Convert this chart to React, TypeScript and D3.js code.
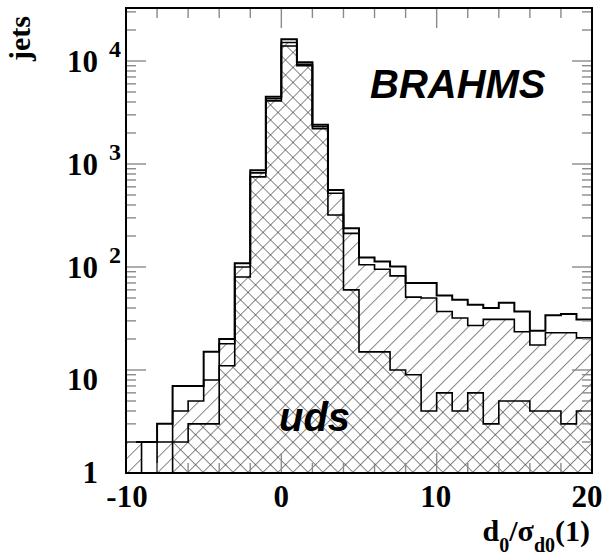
import React from 'react';
import * as d3 from 'd3';

// Lower edges of the unit-width bins in d0/sigma_d0
const binLow = [-10, -9, -8, -7, -6, -5, -4, -3, -2, -1, 0, 1, 2, 3, 4, 5, 6, 7, 8, 9, 10, 11, 12, 13, 14, 15, 16, 17, 18, 19];

// All jets (open histogram)
const allJets = [2, 2, 3, 7, 7, 15, 20, 109, 870, 4500, 16300, 9700, 2400, 560, 238, 124, 113, 101, 70, 70, 53, 48, 43, 40, 45, 37, 24, 34, 35, 31];
// Stacked sample drawn with single hatching
const hatchedJets = [2, 1, 2, 4, 5, 8, 18, 100, 820, 4300, 15100, 9300, 2300, 520, 212, 105, 95, 82, 51, 50, 37, 32, 27, 31, 31, 23.5, 17.5, 23, 23, 20.5];
// uds jets (cross hatching)
const udsJets = [1, 1, 1, 2, 3, 3, 11, 80, 750, 4100, 14000, 9000, 2200, 320, 60, 15, 15, 10, 9, 4, 6, 4, 6, 3, 5, 5, 4, 4, 3, 4];

const xMajorTicks = [-10, 0, 10, 20];
const xMajorLabels = ['-10', '0', '10', '20'];
const xLabelShift = [1, 0, -1, -5];
const yDecades = [0, 1, 2, 3, 4];

const W = 610;
const H = 558;
const LEFT = 126;
const RIGHT = 592;
const TOP = 8;
const BOTTOM = 473;

const serif = '"Liberation Serif", "Times New Roman", serif';
const sans = '"Liberation Sans", Arial, Helvetica, sans-serif';

export default function App() {
  const x = d3.scaleLinear().domain([-10, 20]).range([LEFT, RIGHT]);
  const y = d3.scaleLog().domain([1, 32700]).range([BOTTOM, TOP]);
  const yc = (v: number) => y(Math.max(1, v));

  const stepPoints = (vals: number[]): [number, number][] => {
    const pts: [number, number][] = [[x(binLow[0]), BOTTOM]];
    vals.forEach((v, i) => {
      pts.push([x(binLow[i]), yc(v)]);
      pts.push([x(binLow[i] + 1), yc(v)]);
    });
    pts.push([x(binLow[binLow.length - 1] + 1), BOTTOM]);
    return pts;
  };
  const line = d3.line();
  const allPath = line(stepPoints(allJets)) as string;
  const hatchedPath = line(stepPoints(hatchedJets)) as string;
  const udsPath = line(stepPoints(udsJets)) as string;

  // tick marks
  const xMinor = d3.range(-10, 21, 2).filter((v) => v % 10 !== 0);
  const yTicks: { v: number; major: boolean }[] = [];
  yDecades.forEach((d) => {
    for (let k = 1; k <= 9; k++) {
      const v = k * Math.pow(10, d);
      if (v <= 32700) yTicks.push({ v, major: k === 1 });
    }
  });
  const tickColor = '#8a8a8a';

  return (
    <svg width={W} height={H} style={{ position: 'absolute', left: 0, top: 0, background: '#fff' }}>
      <defs>
        <pattern id="hatchFwd" patternUnits="userSpaceOnUse" width={10.6} height={10.6} patternTransform="rotate(45)">
          <line x1={0} y1={0} x2={0} y2={10.6} stroke="#222" strokeWidth={1.1} />
        </pattern>
        <pattern id="hatchBack" patternUnits="userSpaceOnUse" width={10.6} height={10.6} patternTransform="rotate(-45)">
          <line x1={0} y1={0} x2={0} y2={10.6} stroke="#222" strokeWidth={1.1} />
        </pattern>
        <clipPath id="frameClip">
          <rect x={LEFT} y={TOP} width={RIGHT - LEFT} height={BOTTOM - TOP} />
        </clipPath>
      </defs>
      <rect x={0} y={0} width={W} height={H} fill="#fff" />

      <g clipPath="url(#frameClip)">
        <path d={hatchedPath + 'Z'} fill="url(#hatchFwd)" stroke="none" />
        <path d={udsPath + 'Z'} fill="url(#hatchBack)" stroke="none" />
        <path d={udsPath} fill="none" stroke="#000" strokeWidth={1.6} />
        <path d={hatchedPath} fill="none" stroke="#000" strokeWidth={1.6} />
        <path d={allPath} fill="none" stroke="#000" strokeWidth={2} />
      </g>

      {/* x-axis ticks, bottom and top */}
      {xMajorTicks.map((v) => (
        <g key={'xM' + v}>
          <line x1={x(v)} x2={x(v)} y1={BOTTOM} y2={BOTTOM - 20} stroke={tickColor} strokeWidth={1.4} />
          <line x1={x(v)} x2={x(v)} y1={TOP} y2={TOP + 20} stroke={tickColor} strokeWidth={1.4} />
        </g>
      ))}
      {xMinor.map((v) => (
        <g key={'xm' + v}>
          <line x1={x(v)} x2={x(v)} y1={BOTTOM} y2={BOTTOM - 10} stroke={tickColor} strokeWidth={1.4} />
          <line x1={x(v)} x2={x(v)} y1={TOP} y2={TOP + 10} stroke={tickColor} strokeWidth={1.4} />
        </g>
      ))}
      {/* y-axis ticks, left and right */}
      {yTicks.map((t) => (
        <g key={'y' + t.v}>
          <line x1={LEFT} x2={LEFT + (t.major ? 20 : 10)} y1={y(t.v)} y2={y(t.v)} stroke={tickColor} strokeWidth={1.4} />
          <line x1={RIGHT} x2={RIGHT - (t.major ? 20 : 10)} y1={y(t.v)} y2={y(t.v)} stroke={tickColor} strokeWidth={1.4} />
        </g>
      ))}

      {/* frame */}
      <rect x={LEFT} y={TOP} width={RIGHT - LEFT} height={BOTTOM - TOP} fill="none" stroke="#000" strokeWidth={2} />

      {/* x tick labels */}
      {xMajorTicks.map((v, i) => (
        <text key={'xl' + v} x={x(v) + xLabelShift[i]} y={507} textAnchor="middle"
          fontFamily={serif} fontWeight="bold" fontSize={31} fill="#000">
          {xMajorLabels[i]}
        </text>
      ))}

      {/* y tick labels */}
      {yDecades.map((d) => {
        const ty = y(Math.pow(10, d));
        if (d === 0) {
          return (
            <text key="yl0" x={98} y={ty + 10} textAnchor="end" fontFamily={serif} fontWeight="bold" fontSize={31} fill="#000">1</text>
          );
        }
        if (d === 1) {
          return (
            <text key="yl1" x={98} y={ty + 20} textAnchor="end" fontFamily={serif} fontWeight="bold" fontSize={31} fill="#000">10</text>
          );
        }
        return (
          <g key={'yl' + d}>
            <text x={98} y={ty + 11} textAnchor="end" fontFamily={serif} fontWeight="bold" fontSize={31} fill="#000">10</text>
            <text x={109} y={ty - 4} textAnchor="start" fontFamily={serif} fontWeight="bold" fontSize={24} fill="#000">{String(d)}</text>
          </g>
        );
      })}

      {/* axis titles */}
      <text transform="translate(30,38.5) rotate(-90)" textAnchor="middle" fontFamily={serif} fontWeight="bold" fontSize={30} fill="#000">jets</text>
      <text x={590} y={541} textAnchor="end" fontFamily={serif} fontWeight="bold" fontSize={30} fill="#000">
        d<tspan fontSize={20} dy={11}>0</tspan><tspan dy={-11}>/σ</tspan><tspan fontSize={20} dy={11}>d0</tspan><tspan dy={-11}>(1)</tspan>
      </text>

      {/* labels inside the frame */}
      <text x={370} y={98} fontFamily={sans} fontWeight="bold" fontStyle="italic" fontSize={40} fill="#000">BRAHMS</text>
      <text x={279} y={431} fontFamily={sans} fontWeight="bold" fontStyle="italic" fontSize={40} fill="#000">uds</text>
    </svg>
  );
}
